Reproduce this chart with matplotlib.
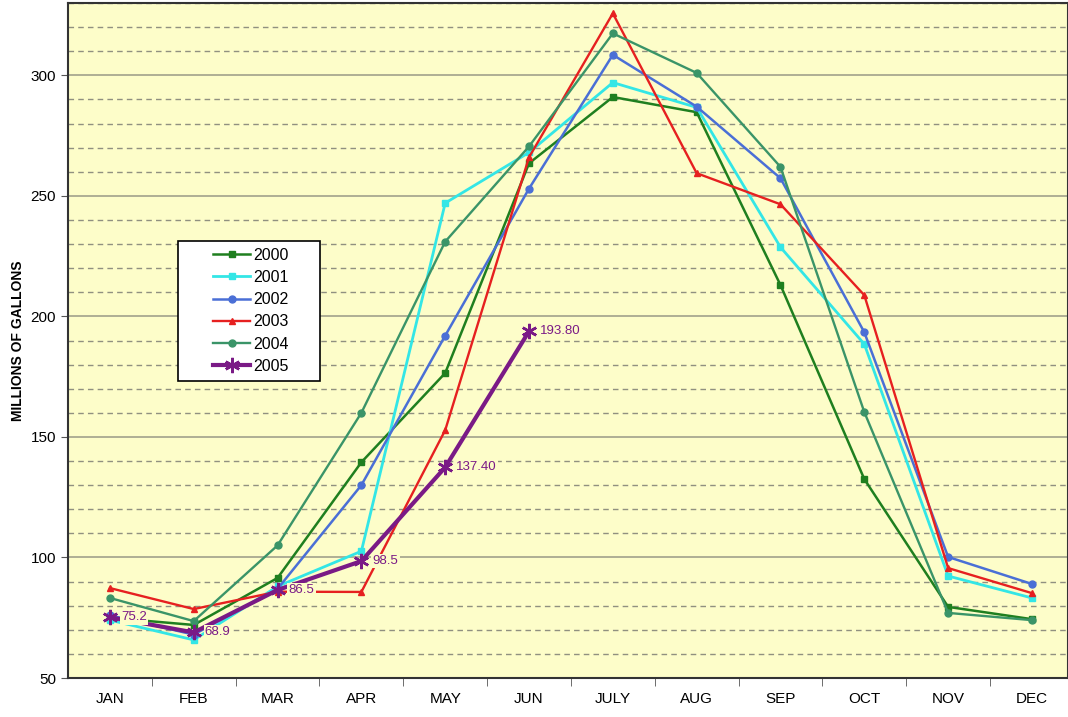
import numpy as np
import matplotlib.pyplot as plt
from matplotlib.patches import Rectangle
from matplotlib.ticker import MultipleLocator, FixedLocator

plt.rcParams['font.family'] = ['Liberation Sans', 'DejaVu Sans']

months = ['JAN', 'FEB', 'MAR', 'APR', 'MAY', 'JUN', 'JULY', 'AUG', 'SEP', 'OCT', 'NOV', 'DEC']

y2000 = [75, 72, 91.5, 139.5, 176.5, 263.5, 291, 284.7, 213, 132.5, 79.5, 74.4]
y2001 = [74, 65.8, 88, 102.6, 247, 268, 297, 286.7, 228.7, 188.5, 92.3, 83.2]
y2002 = [76, 68, 87, 130, 192, 253, 308.5, 287, 257.3, 193.4, 100.2, 89]
y2003 = [87.3, 78.6, 85.8, 85.7, 152.8, 266, 325.7, 259.4, 246.5, 208.8, 95.6, 85.2]
y2004 = [83.2, 73.6, 105, 160, 231, 270.5, 317.4, 301, 262, 160.3, 77, 74]
y2005 = [75.2, 68.9, 86.5, 98.5, 137.4, 193.8]
labels2005 = ['75.2', '68.9', '86.5', '98.5', '137.40', '193.80']

bg = '#fdfdc9'

fig = plt.figure(figsize=(10.68, 7.17), dpi=100)
ax = fig.add_axes([68 / 1068, 39 / 717, 1000 / 1068, 675 / 717])
ax.set_facecolor(bg)

x = np.arange(len(months))
ax.plot(x, y2000, '-s', color='#1f7f1f', lw=1.8, ms=5, label='2000', zorder=3)
ax.plot(x, y2001, '-s', color='#33e6e6', lw=2.0, ms=5, label='2001', zorder=3)
ax.plot(x, y2002, '-o', color='#4a6fd6', lw=1.8, ms=5, label='2002', zorder=3)
ax.plot(x, y2003, '-^', color='#e62020', lw=1.7, ms=5, label='2003', zorder=3)
ax.plot(x, y2004, '-o', color='#3a9468', lw=1.7, ms=5, label='2004', zorder=3)
x5 = np.arange(len(y2005))
ax.plot(x5, y2005, '-', marker=(6, 2, 0), color='#7a1a86', lw=3.0, ms=11, mew=1.8,
        label='2005', zorder=4)

for xi, yi, t in zip(x5, y2005, labels2005):
    ax.annotate(t, (xi, yi), xytext=(8, 0), textcoords='offset points',
                ha='left', va='center', fontsize=9.5, color='#7a1a86', zorder=5,
                bbox=dict(boxstyle='square,pad=0.1', fc=bg, ec='none'))

ax.set_xlim(-0.5, 11.43)
ax.set_ylim(50, 330)
ax.yaxis.set_major_locator(MultipleLocator(50))
ax.yaxis.set_minor_locator(MultipleLocator(10))
ax.grid(which='major', axis='y', color='#a8a890', lw=1.3, zorder=1)
ax.grid(which='minor', axis='y', color='#909080', lw=1.0, ls=(0, (4, 3)), zorder=1)

ax.set_xticks(x)
ax.set_xticklabels(months)
ax.xaxis.set_minor_locator(FixedLocator(np.arange(0.5, 11.5, 1)))
ax.tick_params(axis='x', which='major', length=0, pad=10, labelsize=11)
ax.tick_params(axis='x', which='minor', length=6, color='#555555')
ax.tick_params(axis='y', which='major', length=5, labelsize=11, color='#555555')
ax.tick_params(axis='y', which='minor', length=0)
ax.set_ylabel('MILLIONS OF GALLONS', fontsize=10, fontweight='bold', labelpad=4)

for s in ax.spines.values():
    s.set_color('#333333')
    s.set_linewidth(1.5)

# legend box drawn separately so the entries sit centred in it
ax.add_patch(Rectangle((0.11, 0.44), 0.142, 0.207, transform=ax.transAxes,
                       facecolor='white', edgecolor='black', lw=1.2, zorder=6))
leg = ax.legend(loc='center', bbox_to_anchor=(0.183, 0.544), fontsize=11.5,
                frameon=False, handlelength=2.3, labelspacing=0.45,
                borderaxespad=0, handletextpad=0.2)
leg.set_zorder(7)

fig.savefig('out.png', dpi=100)
